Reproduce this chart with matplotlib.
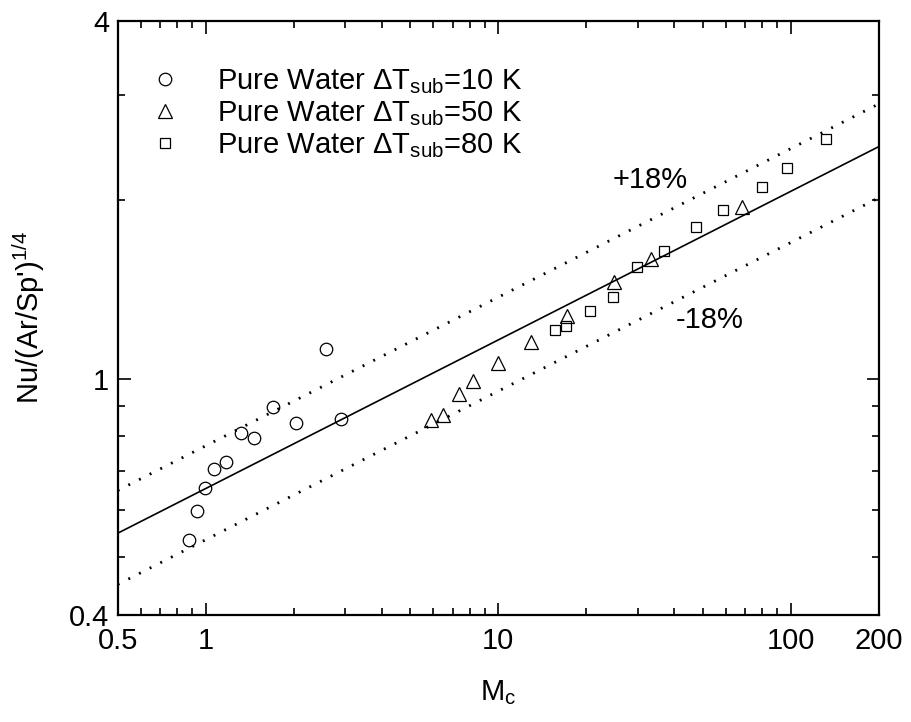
import numpy as np
import matplotlib
matplotlib.use("Agg")
import matplotlib.pyplot as plt
from matplotlib.ticker import FixedLocator, NullFormatter

plt.rcParams['font.family'] = ['Liberation Sans', 'DejaVu Sans']
plt.rcParams['mathtext.fontset'] = 'custom'
plt.rcParams['mathtext.rm'] = 'Liberation Sans'
plt.rcParams['mathtext.it'] = 'Liberation Sans:italic'

# dados
mc_10 = [0.879, 0.934, 0.992, 1.065, 1.171, 1.323, 1.459, 1.703, 2.036, 2.584, 2.901]
nu_10 = [0.534, 0.598, 0.654, 0.704, 0.724, 0.809, 0.794, 0.894, 0.841, 1.122, 0.854]

mc_50 = [5.89, 6.49, 7.33, 8.22, 9.96, 12.91, 17.15, 24.95, 33.2, 68.3]
nu_50 = [0.852, 0.869, 0.943, 0.991, 1.061, 1.151, 1.276, 1.453, 1.590, 1.947]

mc_80 = [15.64, 17.06, 20.64, 24.75, 29.9, 36.98, 47.34, 58.7, 79.6, 97.4, 131.8]
nu_80 = [1.208, 1.227, 1.300, 1.372, 1.543, 1.642, 1.798, 1.922, 2.104, 2.259, 2.531]

# correlacao Nu = C * Mc^0.25 e faixa de +-18%
C = 0.653
expoente = 0.25
faixa = 0.18

x_ticks = [0.5, 1, 10, 100, 200]
x_labels = ['0.5', '1', '10', '100', '200']
y_ticks = [0.4, 1, 4]
y_labels = ['0.4', '1', '4']

fig = plt.figure(figsize=(9.11, 7.22), dpi=100)
ax = fig.add_axes([0.1292, 0.1482, 0.8354, 0.8231])

mc = np.logspace(np.log10(0.5), np.log10(200), 200)
ax.plot(mc, C * mc**expoente, color='black', lw=1.2)
ax.plot(mc, (1 + faixa) * C * mc**expoente, color='black', lw=2.0, dashes=(0.7, 3.6))
ax.plot(mc, (1 - faixa) * C * mc**expoente, color='black', lw=2.0, dashes=(0.7, 3.6))

ax.plot(mc_10, nu_10, 'o', ms=9, mfc='none', mec='black', mew=0.9,
        label='Pure Water \u0394T$_{\\rm sub}$=10 K')
ax.plot(mc_50, nu_50, '^', ms=10, mfc='none', mec='black', mew=0.9,
        label='Pure Water \u0394T$_{\\rm sub}$=50 K')
ax.plot(mc_80, nu_80, 's', ms=7.5, mfc='none', mec='black', mew=0.9,
        label='Pure Water \u0394T$_{\\rm sub}$=80 K')

ax.text(33.0, 2.16, '+18%', fontsize=21, ha='center', va='center')
ax.text(53.0, 1.255, '-18%', fontsize=21, ha='center', va='center')

ax.set_xscale('log')
ax.set_yscale('log')
ax.set_xlim(0.5, 200)
ax.set_ylim(0.4, 4)

ax.xaxis.set_major_locator(FixedLocator(x_ticks))
ax.set_xticklabels(x_labels)
ax.yaxis.set_major_locator(FixedLocator(y_ticks))
ax.set_yticklabels(y_labels)
ax.xaxis.set_minor_formatter(NullFormatter())
ax.yaxis.set_minor_formatter(NullFormatter())

ax.tick_params(which='both', direction='in', top=True, right=True, labelsize=21, width=1.2)
ax.tick_params(which='major', length=9)
ax.tick_params(axis='x', which='major', pad=9)
ax.tick_params(axis='y', which='major', pad=6)
ax.tick_params(which='minor', length=5)
for s in ax.spines.values():
    s.set_linewidth(1.6)

ax.set_xlabel('M$_{\\rm c}$', fontsize=21, labelpad=16)
ax.set_ylabel("Nu/(Ar/Sp')$^{1/4}$", fontsize=21, labelpad=16)

ax.legend(loc='upper left', bbox_to_anchor=(0.043, 0.921), frameon=False, fontsize=21,
          handlelength=1.0, handletextpad=1.27, labelspacing=0.1,
          borderpad=0, borderaxespad=0)

plt.savefig('out.png', dpi=100)
